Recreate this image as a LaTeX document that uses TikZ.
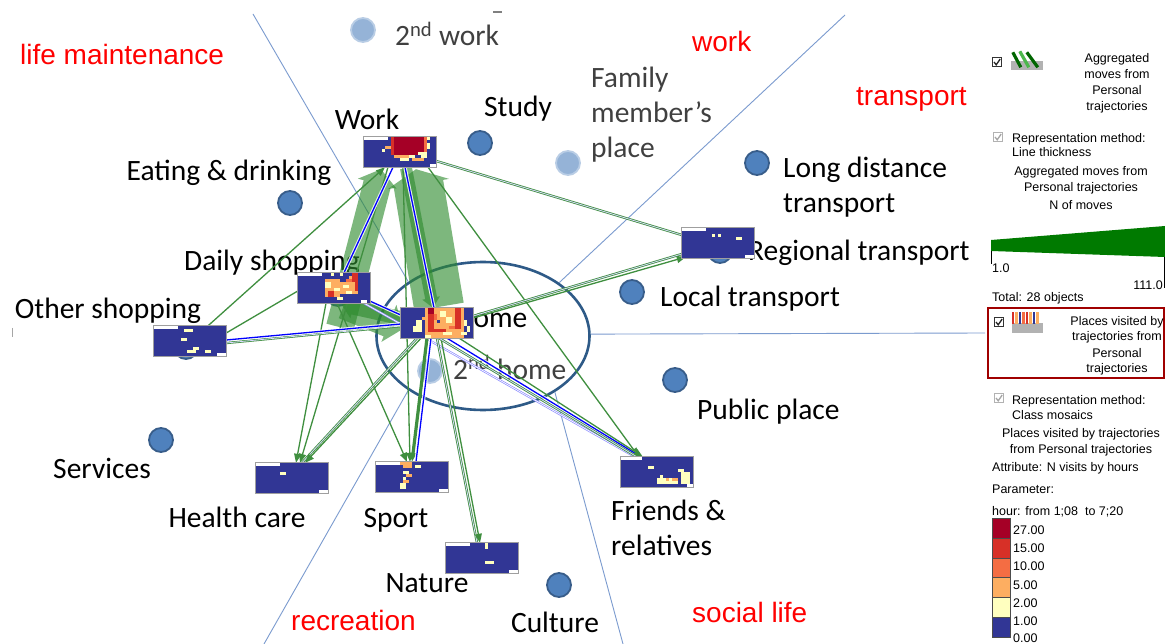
\documentclass[tikz,border=0pt]{standalone}
\usepackage{fontspec}
\setmainfont{Carlito}
\newfontfamily\arialfont{Liberation Sans}
\usetikzlibrary{calc,arrows.meta,shapes.geometric}
\definecolor{mnavy}{HTML}{313695}
\definecolor{cA}{HTML}{A50026}
\definecolor{cB}{HTML}{D73027}
\definecolor{cC}{HTML}{F46D43}
\definecolor{cD}{HTML}{FDAE61}
\definecolor{cE}{HTML}{FFFFBF}
\definecolor{poifill}{HTML}{4F81BD}
\definecolor{poiedge}{HTML}{385D8A}
\definecolor{poilight}{HTML}{95B3D7}
\definecolor{poilightedge}{HTML}{B9CDE5}
\definecolor{sector}{HTML}{7B9BCF}
\definecolor{ellcol}{HTML}{2E5A87}
\definecolor{flowg}{HTML}{2E8B2E}
\definecolor{thing}{HTML}{3F8F3F}
\definecolor{legendgreen}{HTML}{007A00}
\definecolor{boxred}{HTML}{A00000}
\definecolor{redlab}{HTML}{FF0000}
\definecolor{graytext}{HTML}{404040}
\tikzset{
  lab/.style={font=\fontsize{29.5}{34}\selectfont, inner sep=0, anchor=base},
  labw/.style={lab, anchor=base west},
  sectlab/.style={font=\arialfont\fontsize{28}{32}\selectfont, text=redlab, inner sep=0, anchor=base west},
  leg/.style={font=\arialfont\fontsize{12.5}{15}\selectfont, inner sep=0, anchor=base west},
  legc/.style={leg, anchor=base},
  poi/.style={circle, minimum size=24, inner sep=0, fill=poifill, draw=poiedge, line width=1.8},
  poil/.style={circle, minimum size=24, inner sep=0, fill=poilight, draw=poilightedge, line width=1.8},
  mosaic/.style={rectangle, minimum width=72, minimum height=30, inner sep=0},
  mosaicedge/.style={draw=gray!75, line width=1.2},
  sectorline/.style={draw=sector, line width=0.9},
  bandfill/.style={fill=flowg, fill opacity=0.62},
  tf/.style={draw=thing, line width=1.3},
  arr/.style={-{Triangle[length=9pt,width=7pt]}},
  dbl/.style={draw=thing, line width=0.8, double=blue!15!white, double distance=0.8},
  dblb/.style={draw=blue!45!white, line width=0.7, double=white, double distance=0.7},
  bl/.style={draw=blue, line width=1.3, preaction={draw=white, line width=3.4, draw opacity=0.85}},
  chk/.style={draw=black!80, fill=white, line width=1, minimum size=9, inner sep=0},
  chkg/.style={draw=gray!60, fill=white, line width=1, minimum size=9, inner sep=0},
  chkmark/.style={draw=black!85, line width=1.3},
  chkmarkg/.style={draw=gray!70, line width=1.3},
  scalebox/.style={draw=black!70, line width=0.8, minimum width=18, minimum height=19.8, inner sep=0, anchor=north west}
}
\newcommand\drawmosaic[2]{%
  \fill[mnavy] (#1.north west) rectangle (#1.south east);
  \foreach \cc/\rr/\ww/\hh/\col in {#2}{%
    \fill[\col] ($(#1.north west)+(3*\cc,3*\rr)$) rectangle ++(3*\ww,3*\hh);}
  \draw[mosaicedge] (#1.north west) rectangle (#1.south east);}
\newcommand\band[5]{%
  \path (#1) coordinate (bA) (#2) coordinate (bB);
  \path ($(bB)!#5!(bA)$) coordinate (bH);
  \fill[bandfill] ($(bA)!#3!90:(bB)$) -- ($(bH)!#3!-90:(bA)$) -- ($(bH)!#4!-90:(bA)$) -- (bB) -- ($(bH)!#4!90:(bA)$) -- ($(bH)!#3!90:(bA)$) -- ($(bA)!#3!-90:(bB)$) -- cycle;}
\begin{document}
\begin{tikzpicture}[x=1pt,y=-1pt]
\useasboundingbox (0,0) rectangle (1165,644);
\fill[white] (0,0) rectangle (1165,644);
% mosaic placeholders
\node[mosaic] (work) at (400,152) {};
\node[mosaic] (dshop) at (334,288) {};
\node[mosaic] (home) at (437,323) {};
\node[mosaic] (oshop) at (190,341) {};
\node[mosaic] (regt) at (718,243) {};
\node[mosaic] (hcare) at (292,478) {};
\node[mosaic] (sport) at (412,477) {};
\node[mosaic] (nature) at (482,558) {};
\node[mosaic] (friends) at (657,472) {};
% ellipse and sector lines
\node[ellipse, draw=ellcol, line width=2.6, minimum width=213, minimum height=148, inner sep=0] (ell) at (483,336) {};
\coordinate (s1) at (253,14);
\coordinate (s2) at (845,15);
\coordinate (s3) at (985,333);
\coordinate (s4) at (264,644);
\coordinate (s5) at (623,644);
\draw[sectorline] (s1) -- (ell.144);
\draw[sectorline] (s2) -- (ell.35);
\draw[sectorline] (ell.1) -- (s3);
\draw[sectorline] (ell.216) -- (s4);
\draw[sectorline] (ell.322) -- (s5);
\coordinate (m1) at (493,12);
\coordinate (m2) at (502,12);
\draw[gray, line width=1.5] (m1) -- (m2);
\coordinate (m3) at (12,328);
\coordinate (m4) at (12,337);
\draw[gray!70, line width=0.8] (m3) -- (m4);
% places
\node[poil] (p2work) at (363,30) {};
\node[poi] (pstudy) at (480,143) {};
\node[poil] (pfamily) at (568,163) {};
\node[poi] (peat) at (290,203) {};
\node[poi] (plong) at (757,163) {};
\node[poi] (pregt) at (720,251) {};
\node[poi] (plocal) at (632,292) {};
\node[poi] (ppublic) at (675,380) {};
\node[poi] (pserv) at (161,440) {};
\node[poi] (pculture) at (559,585) {};
\node[poil] (p2home) at (430,371) {};
\node[poi] (poshop) at (186,347) {};
\node[poi] (pdshop) at (338,294) {};
% labels
\node[labw, text=graytext] (t2work) at (395,46) {2\textsuperscript{nd} work};
\node[lab] (twork) at (367,130) {Work};
\node[lab] (tstudy) at (518,117) {Study};
\node[labw, text=graytext] (tfam1) at (591,88) {Family};
\node[labw, text=graytext] (tfam2) at (591,123) {member’s};
\node[labw, text=graytext] (tfam3) at (591,158) {place};
\node[lab] (teat) at (229,181) {Eating \& drinking};
\node[labw] (tlong1) at (783,178) {Long distance};
\node[labw] (tlong2) at (783,213) {transport};
\node[lab] (tdshop) at (272,271) {Daily shopping};
\node[labw] (tregt) at (748,261) {Regional transport};
\node[labw] (tlocal) at (660,307) {Local transport};
\node[lab] (toshop) at (108,319) {Other shopping};
\node[labw] (thome) at (455,328) {Home};
\node[labw, text=graytext] (t2home) at (453,379) {2\textsuperscript{nd} home};
\node[labw] (tpublic) at (697,419) {Public place};
\node[lab] (tserv) at (102,478) {Services};
\node[lab] (thcare) at (237,527) {Health care};
\node[lab] (tsport) at (396,527) {Sport};
\node[labw] (tfr1) at (611,520) {Friends \&};
\node[labw] (tfr2) at (611,555) {relatives};
\node[lab] (tnature) at (427,592) {Nature};
\node[lab] (tculture) at (555,632) {Culture};
% sector names
\node[sectlab] (slife) at (20,65) {life maintenance};
\node[sectlab] (swork) at (692,52) {work};
\node[sectlab] (stransport) at (856,106) {transport};
\node[sectlab] (srec) at (291,630) {recreation};
\node[sectlab] (ssocial) at (692,622) {social life};
% thick flows
\band{$(home.north)+(2,-1)$}{$(work.south)+(16,2)$}{25pt}{31pt}{15pt}
\band{$(dshop.south)+(6,24)$}{$(work.south)+(-19,2)$}{14pt}{20pt}{15pt}
\band{$(dshop.south)+(10,2)$}{$(home.west)+(2,6)$}{14pt}{20pt}{15pt}
\band{$(home.west)+(4,-4)$}{$(dshop.south)+(8,2)$}{7pt}{11pt}{11pt}
\band{$(work.south)+(6,1)$}{$(home.north)+(-4,0)$}{6pt}{9pt}{10pt}
% thin flows from work
\draw[tf,arr] ($(oshop.north)+(18,0)$) -- ($(work.south)+(-15,0)$);
\draw[tf,arr] ($(work.south)+(-12,0)$) -- ($(hcare.north)+(8,0)$);
\draw[tf,arr] ($(work.south)+(3,0)$) -- ($(sport.north)+(-2,0)$);
\draw[tf,arr] ($(work.south)+(28,0)$) -- ($(friends.north west)+(18,0)$);
\draw[dbl] ($(work.east)+(0,9)$) -- ($(regt.west)+(0,-8)$);
\draw[bl] ($(work.south)+(-7,0)$) -- ($(dshop.north)+(10,0)$);
\draw[bl] ($(work.south)+(5,0)$) -- ($(home.north)+(-3,0)$);
% thin flows from daily shopping
\draw[tf] ($(dshop.west)+(0,3)$) -- ($(oshop.east)+(0,-8)$);
\draw[bl] ($(dshop.south east)+(0,-2)$) -- ($(home.west)+(0,-8)$);
\draw[tf,arr] ($(dshop.south)+(-8,0)$) -- ($(hcare.north)+(4,0)$);
\draw[tf,arr] ($(dshop.south)+(3,0)$) -- ($(sport.north)+(-5,0)$);
\draw[dblb] ($(dshop.south)+(30,0)$) -- ($(friends.north west)+(14,0)$);
% thin flows from home
\draw[dbl] ($(home.west)+(0,3)$) -- ($(oshop.east)+(0,2)$);
\draw[bl] ($(home.west)+(0,1)$) -- ($(oshop.east)+(0,-1)$);
\draw[tf,arr] ($(home.east)+(0,-5)$) -- ($(regt.west)+(4,14)$);
\draw[dbl] ($(home.east)+(0,-7)$) -- ($(regt.west)+(0,11)$);
\draw[dbl] ($(home.south)+(-20,0)$) -- ($(hcare.north)+(10,0)$);
\draw[tf,arr] ($(home.south)+(-16,0)$) -- ($(hcare.north)+(13,0)$);
\draw[tf,arr,line width=3.2] ($(home.south)+(-10,0)$) -- (sport.north);
\draw[bl] ($(home.south)+(-6,0)$) -- ($(sport.north)+(4,0)$);
\draw[dbl] (home.south) -- ($(nature.north)+(-5,0)$);
\draw[tf,arr] ($(home.south)+(4,0)$) -- ($(nature.north)+(-2,0)$);
\draw[bl] ($(home.south)+(10,0)$) -- ($(friends.north west)+(20,0)$);
\draw[tf,arr] ($(home.south east)+(-14,0)$) -- ($(friends.north west)+(22,0)$);
\draw[dbl] ($(home.south)+(2,0)$) -- ($(friends.north west)+(16,0)$);
% mosaics
\drawmosaic{work}{0/0/8/1/white, 9/0/12/6/cA, 9/0/1/6/cB, 20/0/1/5/cC, 21/0/1/1/cE, 21/2/1/2/cE, 6/4/1/1/cE, 7/3/2/1/cD, 10/6/5/1/cD, 15/6/2/1/cE, 18/5/3/1/cE, 12/7/3/1/cE, 16/7/4/1/cD, 19/6/2/1/cE, 22/9/2/1/white}
\drawmosaic{dshop}{0/0/8/1/white, 9/2/5/6/cD, 13/3/6/4/cD, 17/1/3/6/cD, 18/0/2/3/cB, 19/3/1/3/cB, 9/3/2/2/cE, 12/5/2/1/cE, 10/6/2/2/cB, 15/4/2/1/cE, 16/6/2/1/cE, 13/8/2/1/cE, 11/0/1/1/cE, 14/0/1/1/cE, 16/2/2/1/cC, 21/9/2/1/white}
\drawmosaic{home}{8/0/13/10/cD, 9/0/2/8/cB, 9/0/2/2/cA, 18/0/2/7/cB, 10/7/5/1/cB, 12/4/1/1/mnavy, 13/1/2/2/cE, 15/3/2/2/cE, 11/2/1/2/cC, 16/6/2/1/cC, 14/8/3/1/cE, 5/4/2/2/cE, 4/6/3/2/cE, 21/4/1/2/cE, 22/6/1/2/cE, 20/8/2/1/cE, 7/3/1/1/cD, 8/9/2/1/cE}
\drawmosaic{oshop}{0/0/8/1/white, 10/1/3/1/cE, 9/4/2/1/cE, 13/7/2/1/cE, 11/8/3/1/cE, 17/8/2/1/cE, 21/9/3/1/white}
\drawmosaic{regt}{0/0/8/1/white, 10/2/1/1/cE, 12/2/1/1/cE, 18/3/2/1/cE, 21/9/3/1/white}
\drawmosaic{hcare}{0/0/8/1/white, 8/3/2/1/cE, 21/9/3/1/white}
\drawmosaic{sport}{0/0/8/1/white, 8/0/4/1/cD, 9/1/3/1/cD, 13/1/2/1/cE, 9/3/2/1/cE, 10/4/2/1/cD, 9/5/1/1/cE, 9/6/2/1/cD, 8/7/2/2/cE, 21/9/3/1/white}
\drawmosaic{nature}{0/0/8/1/white, 13/0/1/2/cE, 13/6/3/1/cE, 21/9/3/1/white}
\drawmosaic{friends}{0/0/7/1/white, 9/3/2/1/cE, 19/4/2/1/cE, 20/5/3/4/cE, 13/6/1/1/cE, 12/7/7/2/cE, 15/7/1/1/cD, 17/7/2/1/cD, 22/9/2/1/white}
% ---------------- legend ----------------
\node[chk] (cb1) at (997,62) {};
\draw[chkmark] ($(cb1.center)+(-3,0)$) -- ($(cb1.center)+(-0.8,2.8)$) -- ($(cb1.center)+(3.2,-3)$);
\node[fill=gray!60, minimum width=32, minimum height=9, inner sep=0] (ic1) at (1027,66) {};
\draw[line width=3.2, green!40!black] ($(ic1.north west)+(2,-9)$) -- ($(ic1.north west)+(10,6)$);
\draw[line width=3.2, green!60!black!70!white] ($(ic1.north west)+(9,-10)$) -- ($(ic1.north west)+(18,6)$);
\draw[line width=3.2, green!40!black] ($(ic1.north west)+(16,-9)$) -- ($(ic1.north west)+(27,6)$);
\node[legc] (l1a) at (1117,63) {Aggregated};
\node[legc] (l1b) at (1117,79) {moves from};
\node[legc] (l1c) at (1117,95) {Personal};
\node[legc] (l1d) at (1117,111) {trajectories};
\node[chkg] (cb2) at (998,137) {};
\draw[chkmarkg] ($(cb2.center)+(-3,0)$) -- ($(cb2.center)+(-0.8,2.8)$) -- ($(cb2.center)+(3.2,-3)$);
\node[leg] (l2a) at (1012,143) {Representation method:};
\node[leg] (l2b) at (1012,157) {Line thickness};
\node[legc] (l2c) at (1081,176) {Aggregated moves from};
\node[legc] (l2d) at (1081,192) {Personal trajectories};
\node[legc] (l2e) at (1081,210) {N of moves};
\coordinate (w1) at (991,240);
\coordinate (w2) at (1165,226);
\coordinate (w3) at (1165,257);
\coordinate (w4) at (991,251);
\fill[legendgreen] (w1) -- (w2) -- (w3) -- (w4) -- cycle;
\coordinate (k1) at (991,264);
\coordinate (k2) at (1164,288);
\draw[black, line width=1] (w4) -- (k1);
\draw[black, line width=1] ($(w3)+(-1,0)$) -- (k2);
\node[leg] (lmin) at (992,273) {1.0};
\node[leg, anchor=base east] (lmax) at (1163,290) {111.0};
\node[leg] (ltotal) at (992,302) {Total: 28 objects};
\draw[boxred, line width=2] (988,308) rectangle (1164,378);
\node[chk] (cb3) at (999,322) {};
\draw[chkmark] ($(cb3.center)+(-3,0)$) -- ($(cb3.center)+(-0.8,2.8)$) -- ($(cb3.center)+(3.2,-3)$);
\node[fill=gray!60, minimum width=31, minimum height=10, inner sep=0] (ic2) at (1027.5,328) {};
\foreach \i/\col in {0/cB,1/cD,2/mnavy,3/cC,4/cB,5/cD,6/mnavy,7/cD}{
  \fill[\col] ($(ic2.north west)+(3.5*\i,-11)$) rectangle ++(2.6,12);}
\node[legc] (l3a) at (1117,326) {Places visited by};
\node[legc] (l3b) at (1117,341) {trajectories from};
\node[legc] (l3c) at (1117,357) {Personal};
\node[legc] (l3d) at (1117,373) {trajectories};
\node[chkg] (cb4) at (999,398) {};
\draw[chkmarkg] ($(cb4.center)+(-3,0)$) -- ($(cb4.center)+(-0.8,2.8)$) -- ($(cb4.center)+(3.2,-3)$);
\node[leg] (l4a) at (1012,404) {Representation method:};
\node[leg] (l4b) at (1012,419) {Class mosaics};
\node[legc] (l4c) at (1081,437) {Places visited by trajectories};
\node[legc] (l4d) at (1081,453) {from Personal trajectories};
\node[leg] (l4e) at (992,471) {Attribute: N visits by hours};
\node[leg] (l4f) at (992,493) {Parameter:};
\node[leg] (l4g) at (992,515) {hour: from 1;08\ \ to 7;20};
\node[scalebox, fill=cA] (q1) at (992,518) {};
\node[scalebox, fill=cB] (q2) at (992,537.8) {};
\node[scalebox, fill=cC] (q3) at (992,557.6) {};
\node[scalebox, fill=cD] (q4) at (992,577.4) {};
\node[scalebox, fill=cE] (q5) at (992,597.2) {};
\node[scalebox, fill=mnavy] (q6) at (992,617) {};
\node[leg] (v1) at (1013,534) {27.00};
\node[leg] (v2) at (1013,552) {15.00};
\node[leg] (v3) at (1013,570) {10.00};
\node[leg] (v4) at (1013,589) {5.00};
\node[leg] (v5) at (1013,607) {2.00};
\node[leg] (v6) at (1013,625) {1.00};
\node[leg] (v7) at (1013,642) {0.00};
\end{tikzpicture}
\end{document}
